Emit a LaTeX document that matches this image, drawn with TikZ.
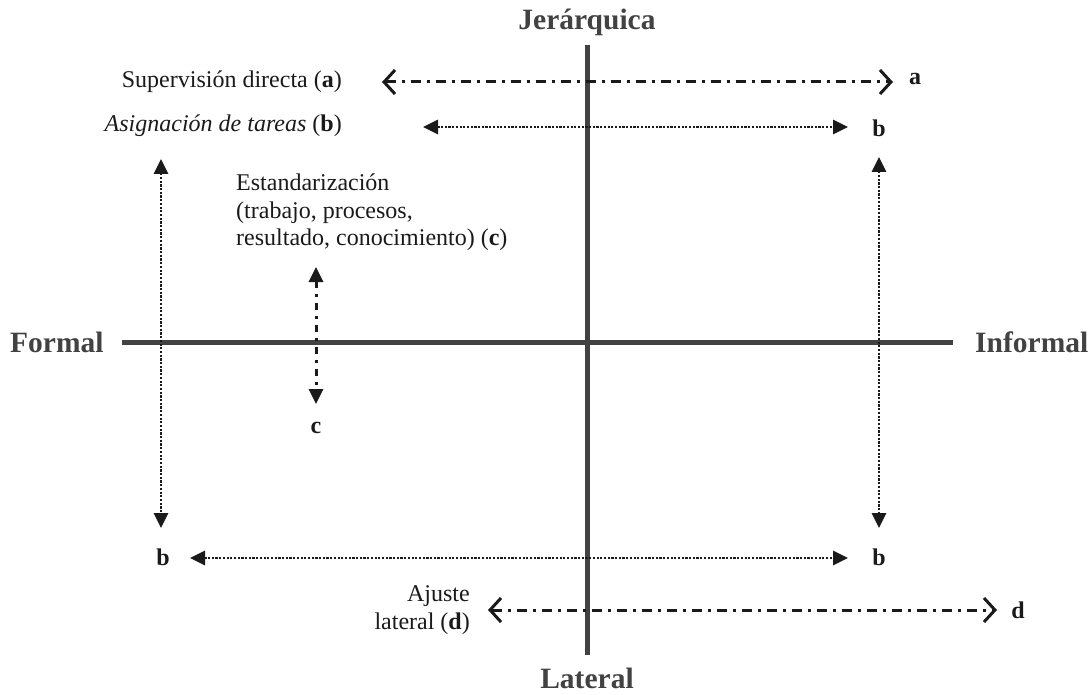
\documentclass[tikz,border=0pt]{standalone}
\usepackage{fontspec}
\setmainfont{Liberation Serif}
\usetikzlibrary{arrows.meta}
\definecolor{axisgray}{HTML}{424242}
\definecolor{txt}{HTML}{1A1A1A}
\begin{document}
\begin{tikzpicture}[x=1pt,y=-1pt,
  axis/.style={line width=5pt,draw=axisgray},
  axlabel/.style={font=\fontsize{29.5}{32}\selectfont\bfseries,text=axisgray,inner sep=0pt},
  lbl/.style={font=\fontsize{24}{27.5}\selectfont,text=txt,inner sep=0pt},
  letter/.style={font=\fontsize{24}{27}\selectfont\bfseries,text=txt,inner sep=0pt},
  dashdot/.style={line width=3pt,draw=txt,dash pattern=on 10pt off 6pt on 3pt off 6pt,
    {Straight Barb[length=11pt,width=24pt,line width=3pt]}-{Straight Barb[length=11pt,width=24pt,line width=3pt]}},
  dashdotf/.style={line width=3pt,draw=txt,dash pattern=on 7pt off 6pt on 3pt off 6pt,
    {Triangle[length=15pt,width=14pt]}-{Triangle[length=15pt,width=14pt]}},
  dotline/.style={line width=2.8pt,draw=txt,dash pattern=on 2.2pt off 1.5pt,
    {Triangle[length=15pt,width=14pt]}-{Triangle[length=15pt,width=14pt]}}
]
\path[use as bounding box] (0,0) rectangle (1092,695);
% axes
\coordinate (vtop) at (587,45);
\coordinate (vbot) at (587,655);
\coordinate (hleft) at (122,342);
\coordinate (hright) at (953,342);
\draw[axis] (vtop) -- (vbot);
\draw[axis] (hleft) -- (hright);
\node[axlabel] (jer) at (587,22) {Jerárquica};
\node[axlabel] (lat) at (587,678) {Lateral};
\node[axlabel,anchor=west] (for) at (10,342) {Formal};
\node[axlabel,anchor=west] (inf) at (975,342) {Informal};
% (a) supervision
\node[lbl,anchor=east] (sup) at (342,82) {Supervisión directa (\textbf{a})};
\coordinate (aL) at (382,82);
\coordinate (aR) at (893,82);
\node[letter] (la) at (915,79) {a};
\draw[dashdot] (aL) -- (aR);
% (b) asignacion
\node[lbl,anchor=east] (asig) at (342,126) {\textit{Asignación de tareas} (\textbf{b})};
\coordinate (bL) at (423,127);
\coordinate (bR) at (848,127);
\node[letter] (lb1) at (879,128) {b};
\draw[dotline] (bL) -- (bR);
% vertical b arrows
\coordinate (vlT) at (161,159);
\coordinate (vlB) at (161,528);
\draw[dotline] (vlT) -- (vlB);
\coordinate (vrT) at (879,157);
\coordinate (vrB) at (879,528);
\draw[dotline] (vrT) -- (vrB);
% bottom b row
\node[letter] (lb2) at (163,557) {b};
\node[letter] (lb3) at (879,557) {b};
\coordinate (b2L) at (190,558);
\coordinate (b2R) at (848,558);
\draw[dotline] (b2L) -- (b2R);
% (c) estandarizacion
\node[lbl,anchor=north west,align=left] (est) at (236,174)
  {Estandarización\\(trabajo, procesos,\\resultado, conocimiento) (\textbf{c})};
\coordinate (cT) at (316,267);
\coordinate (cB) at (316,404);
\draw[dashdotf] (cT) -- (cB);
\node[letter] (lc) at (316,428) {c};
% (d) ajuste lateral
\node[lbl,anchor=east,align=right] (aj) at (470,610) {Ajuste\\lateral (\textbf{d})};
\coordinate (dL) at (488,610);
\coordinate (dR) at (997,610);
\draw[dashdot] (dL) -- (dR);
\node[letter] (ld) at (1018,610) {d};
\end{tikzpicture}
\end{document}
